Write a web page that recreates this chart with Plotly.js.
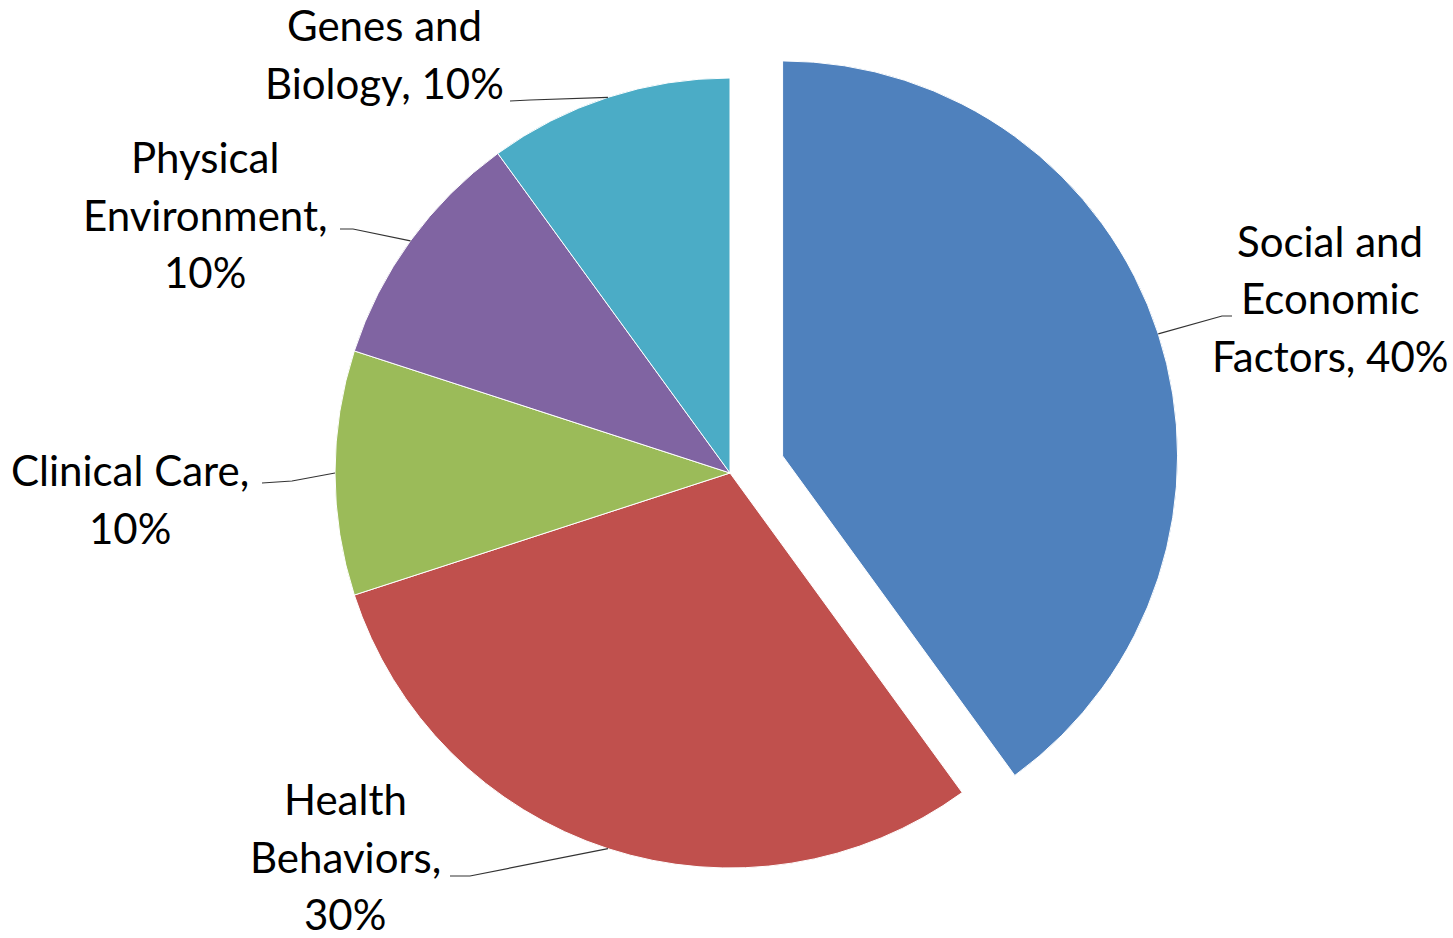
<!DOCTYPE html>
<html>
<head>
<meta charset="utf-8">
<script src="https://cdn.plot.ly/plotly-3.0.1.min.js"></script>
<style>
  html, body { margin: 0; padding: 0; background: #ffffff; }
  #chart { width: 1453px; height: 938px; }
</style>
</head>
<body>
<div id="chart"></div>
<script>
// ---- data ----
const labels = ["Social and Economic Factors", "Health Behaviors", "Clinical Care", "Physical Environment", "Genes and Biology"];
const values = [40, 30, 10, 10, 10];
const colors = ["#4F81BD", "#C0504D", "#9BBB59", "#8064A2", "#4BACC6"];
const pulls = [0.14, 0, 0, 0, 0];

// ---- layout config (pixels) ----
const W = 1453, H = 938;
const CX = 730, CY = 473, R = 395;          // pie centre and radius
const maxPull = Math.max(...pulls);
const half = R * (1 + maxPull);
const FONT = "Lato, 'Open Sans', sans-serif";
const FONT_SIZE = 42;
const LINE_GAP = 57.5;
// words per wrapped line for each label text "label, pct%"
const wrap = [[2, 1, 2], [1, 1, 1], [2, 1], [1, 1, 1], [2, 2]];
// centre of first text line for each label
const textPos = [[1330, 241], [345, 799], [130, 470], [205, 157], [384, 25]];
// leader line: elbow and end near the text
const leader = [
  [[1222, 316], [1232, 316]],
  [[470, 876], [450, 876]],
  [[292, 481], [262, 483]],
  [[353, 229], [340, 229]],
  [[530, 100], [510, 101]]
];

const px = x => x / W;
const py = y => 1 - y / H;

const total = values.reduce((a, b) => a + b, 0);
const annotations = [];
const shapes = [];
let cum = 0;
values.forEach((v, i) => {
  const pct = Math.round(100 * v / total);
  const words = (labels[i] + ", " + pct + "%").split(" ");
  let k = 0;
  wrap[i].forEach((n, li) => {
    const line = words.slice(k, k + n).join(" ");
    k += n;
    annotations.push({
      x: px(textPos[i][0]), y: py(textPos[i][1] + li * LINE_GAP),
      xref: "paper", yref: "paper", xanchor: "center", yanchor: "middle",
      text: line, showarrow: false, borderpad: 0,
      font: { family: FONT, size: FONT_SIZE, color: "#000000" }
    });
  });
  const theta = 2 * Math.PI * (cum + v / 2) / total;
  cum += v;
  const rr = R * (1 + pulls[i]);
  const rimX = CX + rr * Math.sin(theta);
  const rimY = CY - rr * Math.cos(theta);
  const e = leader[i];
  shapes.push({
    type: "path", xref: "paper", yref: "paper",
    path: `M ${px(rimX)} ${py(rimY)} L ${px(e[0][0])} ${py(e[0][1])} L ${px(e[1][0])} ${py(e[1][1])}`,
    line: { color: "#333333", width: 1.2 }
  });
});

const trace = {
  type: "pie",
  labels: labels,
  values: values,
  sort: false,
  direction: "clockwise",
  rotation: 0,
  pull: pulls,
  marker: { colors: colors, line: { color: "#ffffff", width: 1 } },
  textinfo: "none",
  hoverinfo: "label+percent",
  showlegend: false,
  domain: {
    x: [px(CX - half), px(CX + half)],
    y: [py(CY + half), py(CY - half)]
  }
};

const layout = {
  width: W, height: H,
  margin: { l: 0, r: 0, t: 0, b: 0 },
  paper_bgcolor: "#ffffff",
  plot_bgcolor: "#ffffff",
  showlegend: false,
  annotations: annotations,
  shapes: shapes
};

Plotly.newPlot("chart", [trace], layout, { displayModeBar: false, staticPlot: true });
</script>
</body>
</html>
